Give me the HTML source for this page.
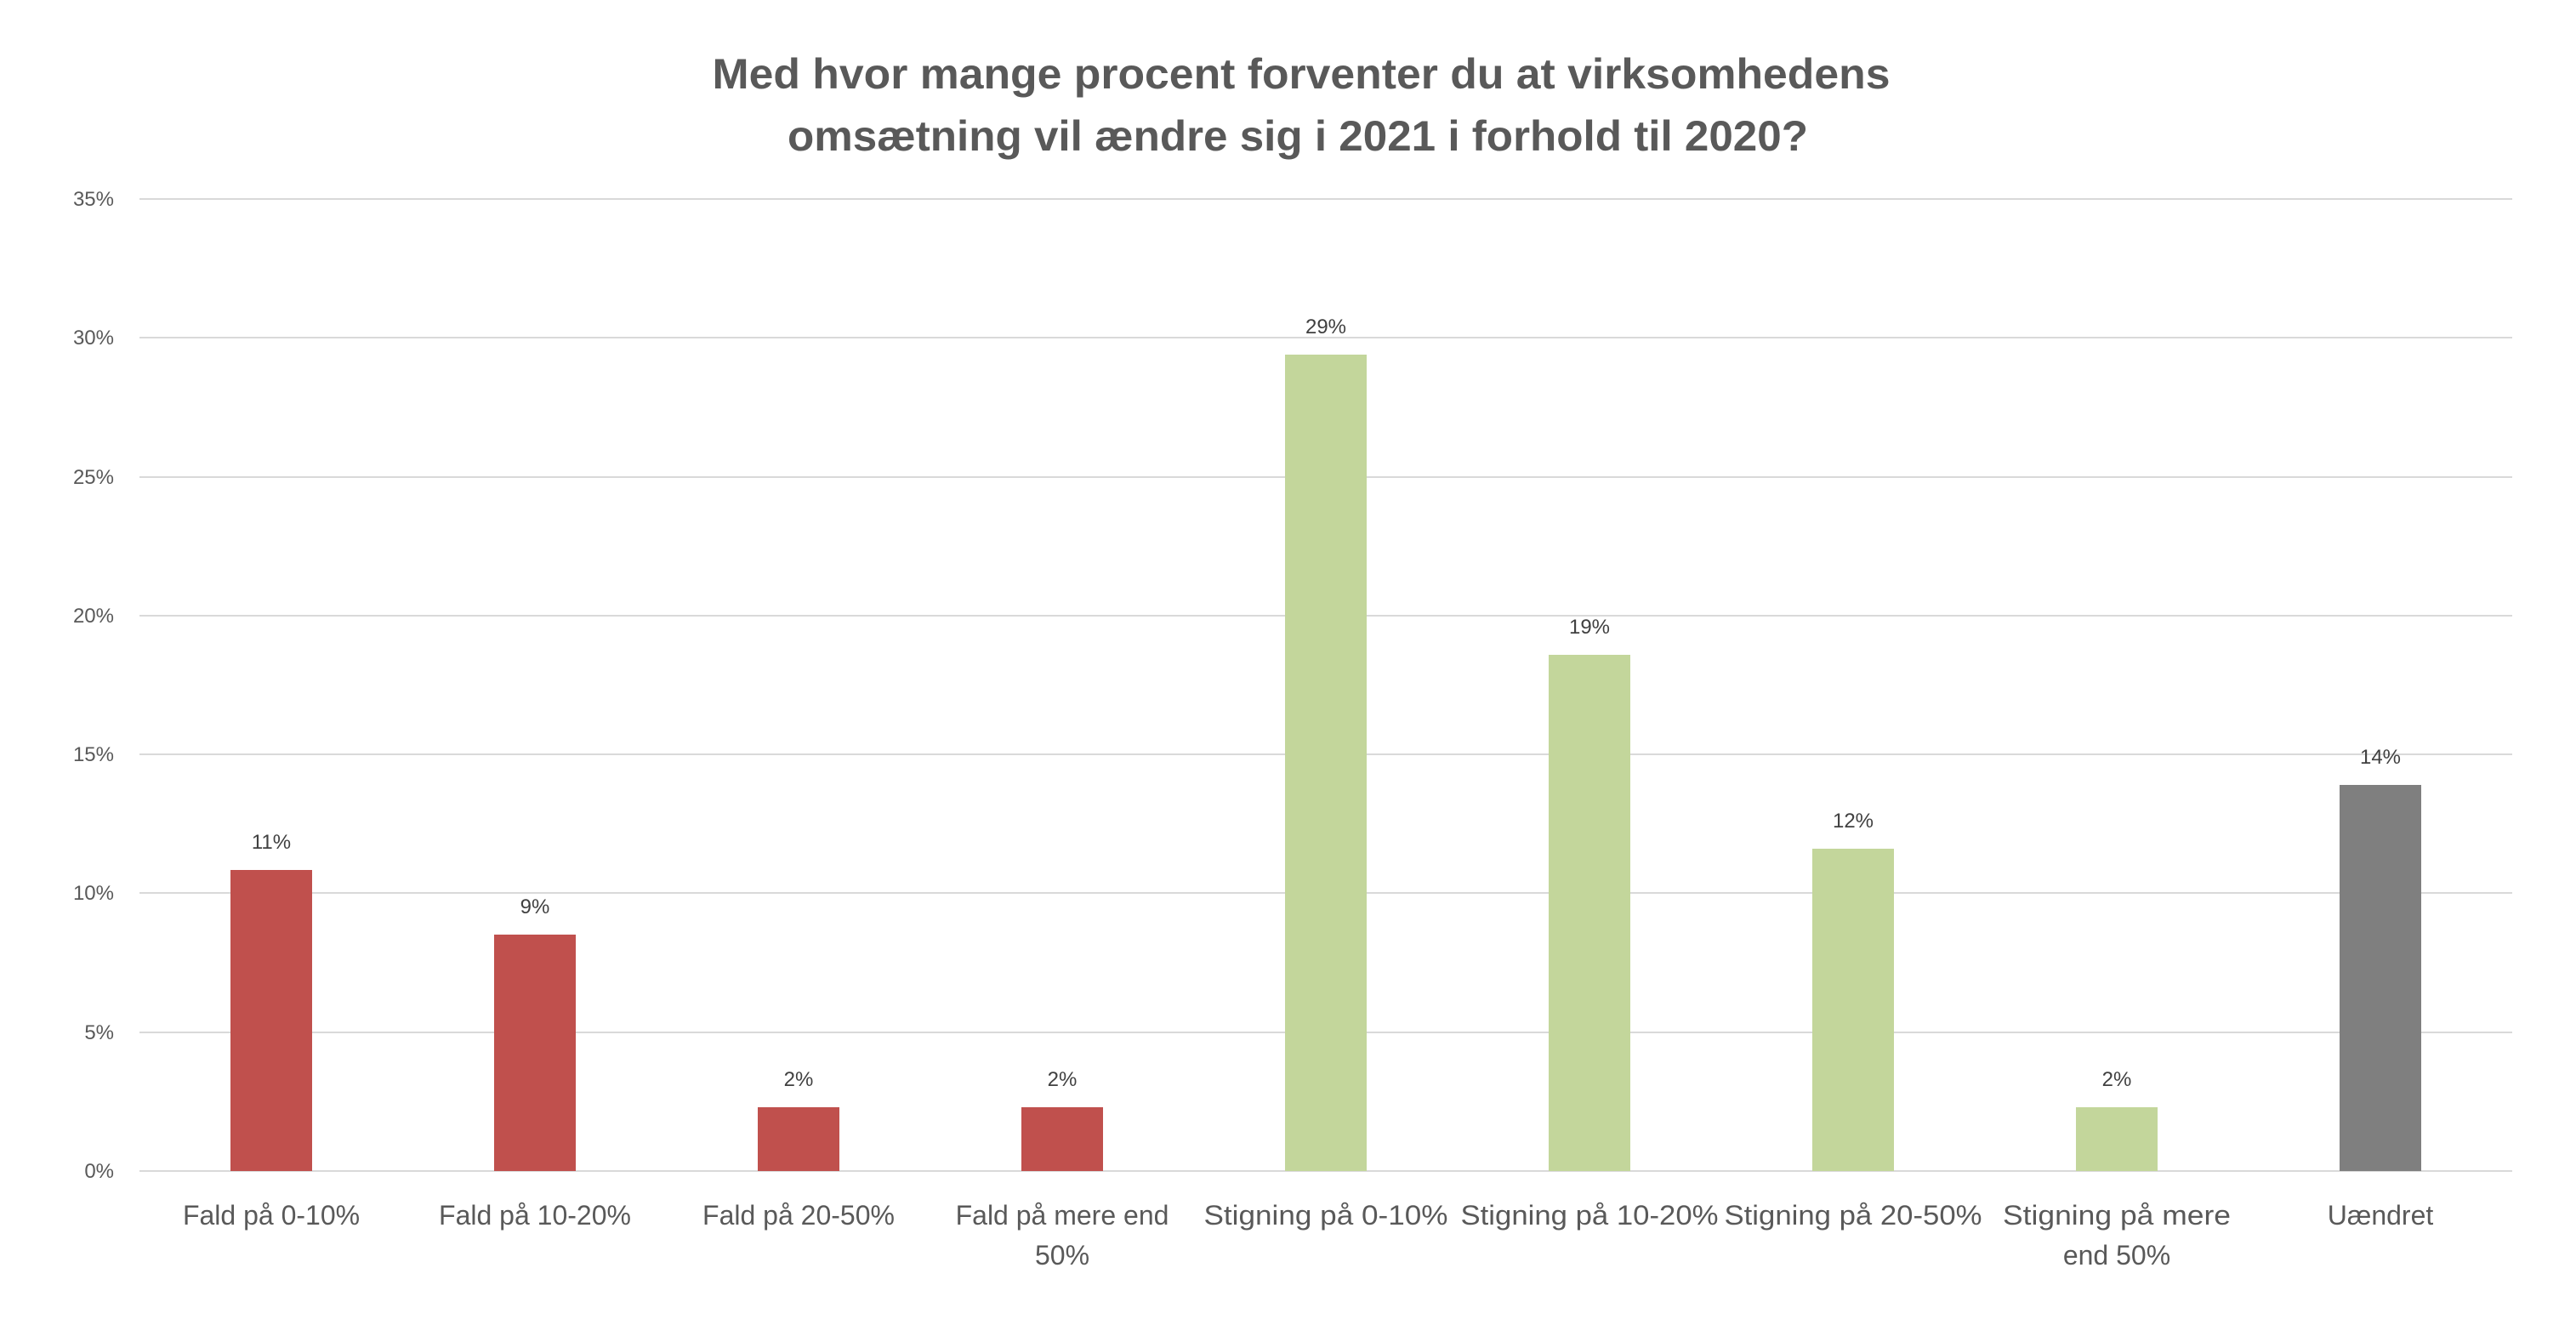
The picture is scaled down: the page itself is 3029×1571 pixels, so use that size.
<!DOCTYPE html>
<html><head><meta charset="utf-8"><style>html,body{margin:0;padding:0;background:#fff}svg{display:block}</style></head>
<body>
<svg width="3029" height="1571" viewBox="0 0 3029 1571" xmlns="http://www.w3.org/2000/svg" font-family="Liberation Sans, sans-serif">
<rect width="3029" height="1571" fill="#fff"/>
<g fill="#595959" font-weight="bold" font-size="50" text-anchor="middle">
<text x="1530" y="104" textLength="1385" lengthAdjust="spacingAndGlyphs">Med hvor mange procent forventer du at virksomhedens</text>
<text x="1526" y="177" textLength="1200" lengthAdjust="spacingAndGlyphs">omsætning vil ændre sig i 2021 i forhold til 2020?</text>
</g>
<g stroke="#d9d9d9" stroke-width="2">
<line x1="164" x2="2954" y1="234" y2="234"/>
<line x1="164" x2="2954" y1="397" y2="397"/>
<line x1="164" x2="2954" y1="561" y2="561"/>
<line x1="164" x2="2954" y1="724" y2="724"/>
<line x1="164" x2="2954" y1="887" y2="887"/>
<line x1="164" x2="2954" y1="1050" y2="1050"/>
<line x1="164" x2="2954" y1="1214" y2="1214"/>
<line x1="164" x2="2954" y1="1377" y2="1377"/>
</g>
<g fill="#595959" font-size="24" text-anchor="end">
<text x="134" y="242">35%</text>
<text x="134" y="405">30%</text>
<text x="134" y="569">25%</text>
<text x="134" y="732">20%</text>
<text x="134" y="895">15%</text>
<text x="134" y="1058">10%</text>
<text x="134" y="1222">5%</text>
<text x="134" y="1385">0%</text>
</g>
<g>
<rect x="271" y="1023" width="96" height="354" fill="#C0504D"/>
<rect x="581" y="1099" width="96" height="278" fill="#C0504D"/>
<rect x="891" y="1302" width="96" height="75" fill="#C0504D"/>
<rect x="1201" y="1302" width="96" height="75" fill="#C0504D"/>
<rect x="1511" y="417" width="96" height="960" fill="#C3D69B"/>
<rect x="1821" y="770" width="96" height="607" fill="#C3D69B"/>
<rect x="2131" y="998" width="96" height="379" fill="#C3D69B"/>
<rect x="2441" y="1302" width="96" height="75" fill="#C3D69B"/>
<rect x="2751" y="923" width="96" height="454" fill="#7F7F7F"/>
</g>
<g fill="#404040" font-size="24" text-anchor="middle">
<text x="319" y="998">11%</text>
<text x="629" y="1074">9%</text>
<text x="939" y="1277">2%</text>
<text x="1249" y="1277">2%</text>
<text x="1559" y="392">29%</text>
<text x="1869" y="745">19%</text>
<text x="2179" y="973">12%</text>
<text x="2489" y="1277">2%</text>
<text x="2799" y="898">14%</text>
</g>
<g fill="#595959" font-size="32" text-anchor="middle">
<text x="319" y="1440">Fald på 0-10%</text>
<text x="629" y="1440">Fald på 10-20%</text>
<text x="939" y="1440">Fald på 20-50%</text>
<text x="1249" y="1440">Fald på mere end</text>
<text x="1249" y="1487">50%</text>
<text x="1559" y="1440" textLength="287" lengthAdjust="spacingAndGlyphs">Stigning på 0-10%</text>
<text x="1869" y="1440" textLength="303" lengthAdjust="spacingAndGlyphs">Stigning på 10-20%</text>
<text x="2179" y="1440" textLength="303" lengthAdjust="spacingAndGlyphs">Stigning på 20-50%</text>
<text x="2489" y="1440" textLength="268" lengthAdjust="spacingAndGlyphs">Stigning på mere</text>
<text x="2489" y="1487">end 50%</text>
<text x="2799" y="1440">Uændret</text>
</g>
</svg>
</body></html>
